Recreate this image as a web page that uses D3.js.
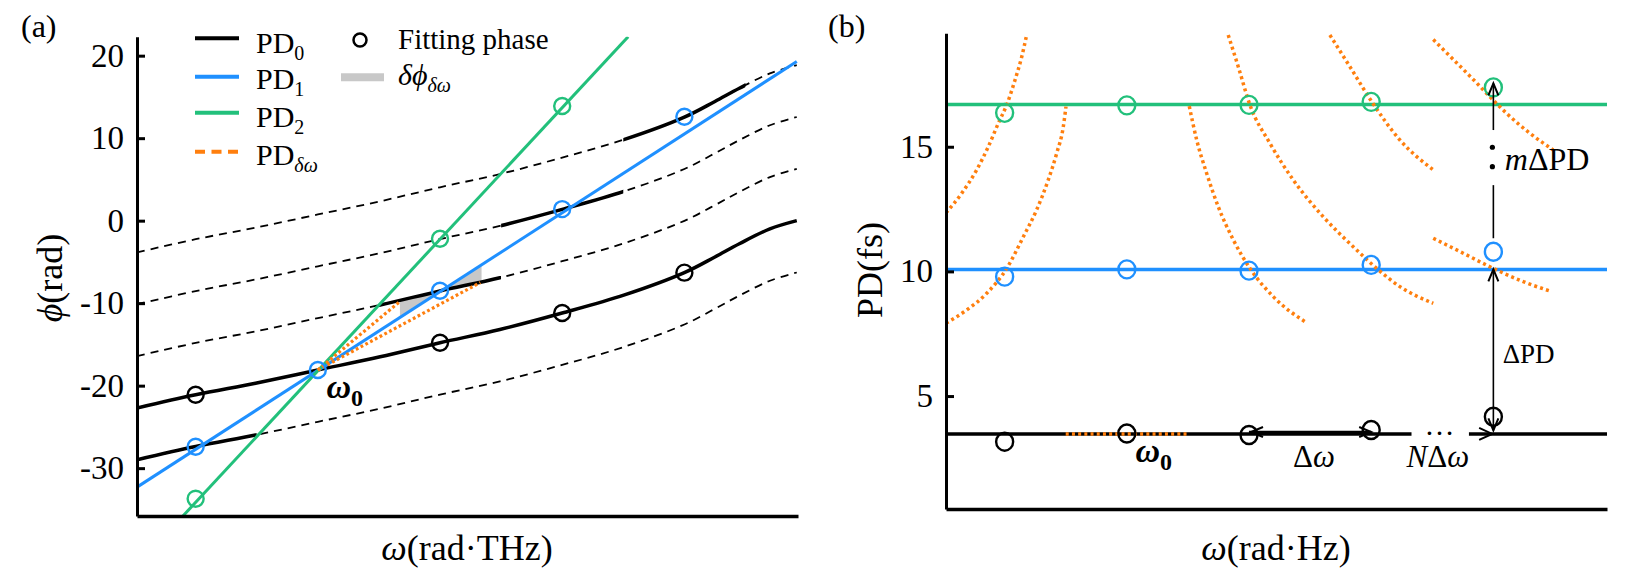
<!DOCTYPE html>
<html><head><meta charset="utf-8">
<script src="https://cdn.jsdelivr.net/npm/d3@7/dist/d3.min.js"></script>
<style>
body{margin:0;background:#fff}
svg{display:block}
text{font-family:"Liberation Serif","Times New Roman",serif;fill:#000}
</style></head>
<body><svg id="c" width="1651" height="578"></svg>
<script>
// ================= DATA =================
// fitting frequencies (index units along ω), ω0 = 2
const fitW = [1, 2, 3, 4, 5];
const omega0 = 2;
const omegaDomain = [0.52, 5.93];

// ---- panel (a): phase ϕ (rad) ----
const phiTicks = [-30, -20, -10, 0, 10, 20];
const pd0W   = [0.52, 1.0, 1.49, 2.0, 2.51, 3.0, 3.49, 4.0, 4.51, 5.0, 5.25, 5.45, 5.7, 5.92];
const pd0Phi = [-22.7, -21.1, -19.7, -18.1, -16.5, -14.8, -13.2, -11.2, -9.0, -6.3, -4.4, -2.8, -1.0, 0.0];
const wrapK  = [-1, 1, 2, 3];                  // 2π-wrapped copies of PD0 (dashed)
const blackFitW = [1, 3, 4, 5];
const blackFitPhi = [-21.1, -14.8, -11.2, -6.3];
const blueFitPhi  = [-27.4, -18.1, -8.5, 1.4, 12.6];
const greenFitW   = [1, 3, 4];
const greenFitPhi = [-33.7, -2.2, 13.9];
const pd1LineW = [0.52, 5.92],  pd1LinePhi = [-32.3, 19.3];
const pd2LineW = [0.896, 4.54], pd2LinePhi = [-35.8, 22.3];
const dwStartW = 2.0, dwStartPhi = -18.1;
const dwEndW   = [2.672, 3.33], dwEndPhi = [-9.79, -7.5];
const grayW    = [2.672, 3.0, 3.34];
const grayBlue = [-11.6, -8.6, -5.35];
const grayBlack= [-9.8, -8.5, -7.2];

// ---- panel (b): PD (fs) ----
const pdTicks = [5, 10, 15];
const pdLevels = {pd0: 3.48, pd1: 10.08, pd2: 16.69};
const bGreen = [16.36, 16.66, 16.68, 16.8, 17.38];
const bBlue  = [9.79, 10.08, 10.03, 10.26, 10.79];
const bBlack = [3.17, 3.5, 3.44, 3.64, 4.17];
const orangeA = [[0.52,12.35],[0.648,13.13],[0.771,14.07],[0.866,15.0],[0.948,15.94],[1.017,16.68],[1.085,17.68],[1.14,18.61],[1.18,19.48]];
const orangeB = [[0.52,7.92],[0.689,8.45],[0.853,9.12],[1.017,10.12],[1.153,11.39],[1.262,12.47],[1.357,13.67],[1.426,14.74],[1.48,15.8],[1.502,16.61]];
const orangeD = [[2.511,16.63],[2.572,15.27],[2.653,13.94],[2.748,12.6],[2.871,11.27],[3.008,10.12],[3.198,8.99],[3.472,7.94]];
const orangeE = [[2.83,19.48],[2.912,18.21],[3.008,16.67],[3.171,15.14],[3.362,13.67],[3.608,12.19],[3.853,10.99],[4.045,10.12],[4.235,9.39],[4.508,8.72]];
const orangeF = [[3.662,19.48],[3.826,18.21],[4.004,16.81],[4.235,15.27],[4.508,14.07]];
const orangeG = [[4.508,19.3],[4.672,18.5],[4.835,17.7],[4.972,17.0],[5.108,16.34],[5.299,15.54],[5.49,14.87]];
const orangeH = [[4.508,11.33],[4.753,10.73],[4.999,10.12],[5.244,9.59],[5.477,9.19]];
const orangeFlat = [1.5, 2.5];
const blackGap = [4.33, 4.80];

// ================= STYLE =================
const C_BLUE = "#1f90ff", C_GREEN = "#22c07b", C_ORANGE = "#ff7f0e", C_GRAY = "#c8c8c8";
const PHI = "\u03D5";
const svg = d3.select("#c");
const defs = svg.append("defs");
const zip = (a, b) => a.map((v, i) => [v, b[i]]);

// ================= PANEL (a) =================
const xA = d3.scaleLinear().domain(omegaDomain).range([137, 798]);
const yA = d3.scaleLinear().domain([-35.8, 22.3]).range([516, 36.7]);
const lineA = d3.line().x(d => xA(d[0])).y(d => yA(d[1]));
const curveA = d3.line().x(d => xA(d[0])).y(d => yA(d[1])).curve(d3.curveCatmullRom.alpha(0.5));

defs.append("clipPath").attr("id", "clipA").append("rect")
  .attr("x", xA.range()[0]).attr("y", yA.range()[1])
  .attr("width", xA.range()[1] - xA.range()[0]).attr("height", yA.range()[0] - yA.range()[1]);

const gA = svg.append("g");
const pA = gA.append("g").attr("clip-path", "url(#clipA)");

// dashed wrapped copies
wrapK.forEach(k => {
  pA.append("path").datum(zip(pd0W, pd0Phi.map(v => v + 2 * Math.PI * k)))
    .attr("d", curveA).attr("fill", "none").attr("stroke", "#000")
    .attr("stroke-width", 1.8).attr("stroke-dasharray", "8,6");
});
// gray δϕ band
pA.append("path").datum(grayW.map((w, i) => [w, grayBlue[i], grayBlack[i]]))
  .attr("d", d3.area().x(d => xA(d[0])).y0(d => yA(d[1])).y1(d => yA(d[2])))
  .attr("fill", C_GRAY);
// solid PD0 segments around each fitting frequency
fitW.forEach(w => {
  const k = w - omega0;
  const id = "seg" + w;
  const x0 = Math.max(xA(w - 0.5), xA.range()[0]);
  const x1 = Math.min(xA(w + 0.5), xA.range()[1]);
  defs.append("clipPath").attr("id", id).append("rect")
    .attr("x", k === 0 ? xA.range()[0] : x0).attr("y", 0)
    .attr("width", k === 0 ? xA.range()[1] - xA.range()[0] : x1 - x0).attr("height", 578);
  pA.append("g").attr("clip-path", `url(#${id})`).append("path")
    .datum(zip(pd0W, pd0Phi.map(v => v + 2 * Math.PI * k)))
    .attr("d", curveA).attr("fill", "none").attr("stroke", "#000").attr("stroke-width", 3.5);
});
// PD1 & PD2 lines
pA.append("path").datum(zip(pd1LineW, pd1LinePhi)).attr("d", lineA)
  .attr("fill", "none").attr("stroke", C_BLUE).attr("stroke-width", 3);
pA.append("path").datum(zip(pd2LineW, pd2LinePhi)).attr("d", lineA)
  .attr("fill", "none").attr("stroke", C_GREEN).attr("stroke-width", 3);
// PDδω dotted lines
dwEndW.forEach((w, i) => {
  pA.append("path").datum([[dwStartW, dwStartPhi], [w, dwEndPhi[i]]]).attr("d", lineA)
    .attr("fill", "none").attr("stroke", C_ORANGE).attr("stroke-width", 3.2)
    .attr("stroke-dasharray", "2.8,2.6");
});
// fitting phase circles
const circA = (w, v, col) => gA.append("circle").attr("cx", xA(w)).attr("cy", yA(v)).attr("r", 8)
  .attr("fill", "none").attr("stroke", col).attr("stroke-width", 2.4);
blackFitW.forEach((w, i) => circA(w, blackFitPhi[i], "#000"));
fitW.forEach((w, i) => circA(w, blueFitPhi[i], C_BLUE));
greenFitW.forEach((w, i) => circA(w, greenFitPhi[i], C_GREEN));

// axes (a)
const axA = gA.append("g").attr("transform", `translate(${xA.range()[0]},0)`)
  .call(d3.axisLeft(yA).tickValues(phiTicks).tickSize(-8).tickSizeOuter(0).tickPadding(13).tickFormat(d => String(d)));
axA.select(".domain").attr("stroke-width", 3);
axA.selectAll(".tick line").attr("stroke-width", 3);
axA.selectAll("text").attr("font-size", 33).attr("font-family", "Liberation Serif");
gA.append("g").attr("transform", `translate(0,${yA.range()[0]})`)
  .call(d3.axisBottom(xA).tickValues([]).tickSizeOuter(0))
  .select(".domain").attr("stroke-width", 3.5);

// labels (a)
gA.append("text").attr("x", 21).attr("y", 37).attr("font-size", 32).text("(a)");
const ylA = gA.append("text").attr("transform", "translate(62,278) rotate(-90)")
  .attr("text-anchor", "middle").attr("font-size", 36);
ylA.append("tspan").attr("font-style", "italic").text(PHI);
ylA.append("tspan").text("(rad)");
const xlA = gA.append("text").attr("x", 467).attr("y", 560).attr("text-anchor", "middle").attr("font-size", 36);
xlA.append("tspan").attr("font-style", "italic").text("ω");
xlA.append("tspan").text("(rad·THz)");
const w0A = gA.append("text").attr("x", xA(2.07)).attr("y", yA(-21.5)).attr("font-size", 34).attr("font-weight", "bold");
w0A.append("tspan").attr("font-style", "italic").text("ω");
w0A.append("tspan").attr("font-size", 24).attr("dy", 8).text("0");

// legend (a)
const leg = gA.append("g");
const legRows = [
  {y: 38.3, col: "#000", dash: null, sub: "0", tb: 53.3},
  {y: 76.7, col: C_BLUE, dash: null, sub: "1", tb: 89.3},
  {y: 112.7, col: C_GREEN, dash: null, sub: "2", tb: 126.7},
  {y: 151.7, col: C_ORANGE, dash: "10,6.5", sub: "δω", tb: 165}
];
legRows.forEach(r => {
  leg.append("line").attr("x1", 195).attr("x2", 239).attr("y1", r.y).attr("y2", r.y)
    .attr("stroke", r.col).attr("stroke-width", 4).attr("stroke-dasharray", r.dash);
  const t = leg.append("text").attr("x", 256).attr("y", r.tb).attr("font-size", 30);
  t.append("tspan").text("PD");
  t.append("tspan").attr("font-size", 20).attr("dy", 7)
    .attr("font-style", r.sub === "δω" ? "italic" : null).text(r.sub);
});
leg.append("circle").attr("cx", 360).attr("cy", 40).attr("r", 6.5).attr("fill", "none")
  .attr("stroke", "#000").attr("stroke-width", 2.5);
leg.append("text").attr("x", 398).attr("y", 49.3).attr("font-size", 29).text("Fitting phase");
leg.append("line").attr("x1", 341).attr("x2", 384).attr("y1", 77.3).attr("y2", 77.3)
  .attr("stroke", C_GRAY).attr("stroke-width", 8);
const dl = leg.append("text").attr("x", 398).attr("y", 85).attr("font-size", 30).attr("font-style", "italic");
dl.append("tspan").text("δ" + PHI);
dl.append("tspan").attr("font-size", 20).attr("dy", 7).text("δω");

// ================= PANEL (b) =================
const xB = d3.scaleLinear().domain(omegaDomain).range([946, 1607]);
const yB = d3.scaleLinear().domain([0.47, 19.55]).range([509, 33.3]);
const lineB = d3.line().x(d => xB(d[0])).y(d => yB(d[1]));
const curveB = d3.line().x(d => xB(d[0])).y(d => yB(d[1])).curve(d3.curveMonotoneX);
defs.append("clipPath").attr("id", "clipB").append("rect")
  .attr("x", xB.range()[0]).attr("y", yB.range()[1])
  .attr("width", xB.range()[1] - xB.range()[0]).attr("height", yB.range()[0] - yB.range()[1]);
const gB = svg.append("g");
const pB = gB.append("g").attr("clip-path", "url(#clipB)");

// PD levels
pB.append("path").datum([[omegaDomain[0], pdLevels.pd2], [omegaDomain[1], pdLevels.pd2]]).attr("d", lineB)
  .attr("stroke", C_GREEN).attr("stroke-width", 3.5);
pB.append("path").datum([[omegaDomain[0], pdLevels.pd1], [omegaDomain[1], pdLevels.pd1]]).attr("d", lineB)
  .attr("stroke", C_BLUE).attr("stroke-width", 3.5);
pB.append("path").datum([[omegaDomain[0], pdLevels.pd0], [blackGap[0], pdLevels.pd0]]).attr("d", lineB)
  .attr("stroke", "#000").attr("stroke-width", 3.5);
pB.append("path").datum([[blackGap[1], pdLevels.pd0], [omegaDomain[1], pdLevels.pd0]]).attr("d", lineB)
  .attr("stroke", "#000").attr("stroke-width", 3.5);
// orange dotted candidate curves
[orangeA, orangeB, orangeD, orangeE, orangeF, orangeG, orangeH].forEach(c => {
  pB.append("path").datum(c.slice().sort((a, b) => a[0] - b[0])).attr("d", curveB)
    .attr("fill", "none").attr("stroke", C_ORANGE).attr("stroke-width", 3.5)
    .attr("stroke-dasharray", "3,3.2");
});
pB.append("path").datum(orangeFlat.map(w => [w, pdLevels.pd0])).attr("d", lineB)
  .attr("stroke", C_ORANGE).attr("stroke-width", 3.5).attr("stroke-dasharray", "3,3.2");

// circles (b)
const circB = (w, v, col) => gB.append("ellipse").attr("cx", xB(w)).attr("cy", yB(v)).attr("rx", 8.5).attr("ry", 9)
  .attr("fill", "none").attr("stroke", col).attr("stroke-width", 2.4);
fitW.forEach((w, i) => { circB(w, bGreen[i], C_GREEN); circB(w, bBlue[i], C_BLUE); circB(w, bBlack[i], "#000"); });

// annotations (b)
const ann = gB.append("g").attr("stroke", "#000").attr("fill", "none");
function head(x, y, dir, len = 12, hw = 5) {
  let p;
  if (dir === "up") p = `M${x - hw},${y + len}L${x},${y}L${x + hw},${y + len}`;
  if (dir === "down") p = `M${x - hw},${y - len}L${x},${y}L${x + hw},${y - len}`;
  if (dir === "left") p = `M${x + len},${y - hw}L${x},${y}L${x + len},${y + hw}`;
  if (dir === "right") p = `M${x - len},${y - hw}L${x},${y}L${x - len},${y + hw}`;
  ann.append("path").attr("d", p).attr("stroke-width", 2);
}
const xa = xB(5.0);
// ΔPD double arrow
ann.append("line").attr("x1", xa).attr("x2", xa).attr("y1", yB(pdLevels.pd1)).attr("y2", yB(3.62)).attr("stroke-width", 1.6);
head(xa, yB(pdLevels.pd1), "up"); head(xa, yB(3.62), "down");
// mΔPD arrow (broken)
ann.append("line").attr("x1", xa).attr("x2", xa).attr("y1", yB(11.33)).attr("y2", yB(13.46)).attr("stroke-width", 1.6);
ann.append("line").attr("x1", xa).attr("x2", xa).attr("y1", yB(15.67)).attr("y2", yB(17.54)).attr("stroke-width", 1.6);
head(xa, yB(17.54), "up");
[14.2, 14.98].forEach(v => gB.append("circle").attr("cx", xa - 1).attr("cy", yB(v)).attr("r", 2.6).attr("fill", "#000"));
// Δω double arrow
ann.append("line").attr("x1", xB(3.0)).attr("x2", xB(4.0)).attr("y1", yB(3.56)).attr("y2", yB(3.56)).attr("stroke-width", 2.5);
head(xB(3.0) + 2, yB(3.56), "left"); head(xB(4.0), yB(3.56), "right");
// NΔω arrow
head(xB(4.99), yB(pdLevels.pd0), "right", 13, 6);
gB.append("text").attr("x", xB(4.56)).attr("y", yB(3.42)).attr("text-anchor", "middle").attr("font-size", 30).text("…");

// axes (b)
const axB = gB.append("g").attr("transform", `translate(${xB.range()[0]},0)`)
  .call(d3.axisLeft(yB).tickValues(pdTicks).tickSize(-8).tickSizeOuter(0).tickPadding(13));
axB.select(".domain").attr("stroke-width", 3);
axB.selectAll(".tick line").attr("stroke-width", 3);
axB.selectAll("text").attr("font-size", 33).attr("font-family", "Liberation Serif");
gB.append("g").attr("transform", `translate(0,${yB.range()[0]})`)
  .call(d3.axisBottom(xB).tickValues([]).tickSizeOuter(0))
  .select(".domain").attr("stroke-width", 3.5);

// labels (b)
gB.append("text").attr("x", 828).attr("y", 37).attr("font-size", 32).text("(b)");
gB.append("text").attr("transform", "translate(882,270) rotate(-90)").attr("text-anchor", "middle")
  .attr("font-size", 36).text("PD(fs)");
const xlB = gB.append("text").attr("x", 1276).attr("y", 560).attr("text-anchor", "middle").attr("font-size", 36);
xlB.append("tspan").attr("font-style", "italic").text("ω");
xlB.append("tspan").text("(rad·Hz)");
const w0B = gB.append("text").attr("x", xB(2.07)).attr("y", yB(2.37)).attr("font-size", 34).attr("font-weight", "bold");
w0B.append("tspan").attr("font-style", "italic").text("ω");
w0B.append("tspan").attr("font-size", 24).attr("dy", 8).text("0");
const dw = gB.append("text").attr("x", xB(3.36)).attr("y", yB(2.14)).attr("font-size", 31);
dw.append("tspan").text("Δ"); dw.append("tspan").attr("font-style", "italic").text("ω");
const ndw = gB.append("text").attr("x", xB(4.29)).attr("y", yB(2.14)).attr("font-size", 31);
ndw.append("tspan").attr("font-style", "italic").text("N");
ndw.append("tspan").text("Δ"); ndw.append("tspan").attr("font-style", "italic").text("ω");
gB.append("text").attr("x", xB(5.076)).attr("y", yB(6.33)).attr("font-size", 27)
  .attr("font-family", "Liberation Sans, Arial, sans-serif").text("ΔPD");
const mdp = gB.append("text").attr("x", xB(5.094)).attr("y", yB(14.06)).attr("font-size", 32);
mdp.append("tspan").attr("font-style", "italic").text("m");
mdp.append("tspan").text("ΔPD");
</script></body></html>
